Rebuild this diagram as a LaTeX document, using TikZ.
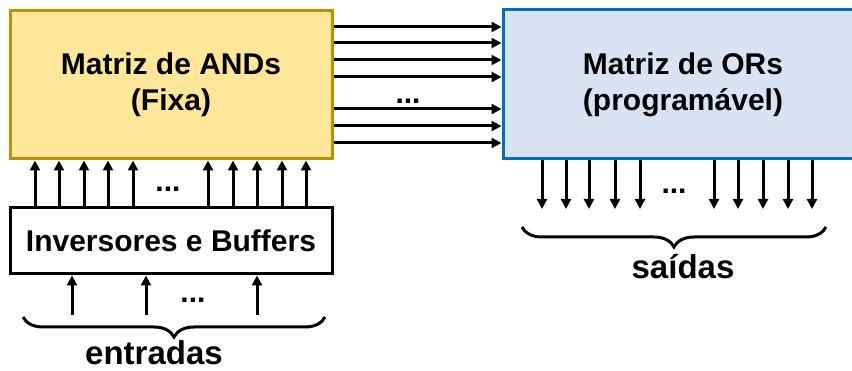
\documentclass[tikz,border=0pt]{standalone}
\usepackage{fontspec}
\setmainfont{Liberation Sans}
\usetikzlibrary{arrows.meta,decorations.pathreplacing}
\definecolor{andfill}{HTML}{FFE699}
\definecolor{anddraw}{HTML}{BF9000}
\definecolor{orfill}{HTML}{DAE3F3}
\definecolor{ordraw}{HTML}{0070C0}

\begin{document}
\begin{tikzpicture}[x=1pt,y=-1pt,
  box/.style={draw,line width=3pt,inner sep=0pt,align=center,
    font=\fontsize{30}{36}\selectfont\bfseries},
  arr/.style={line width=3pt,-{Triangle[length=10pt,width=10pt]}},
  dots/.style={inner sep=0pt,font=\fontsize{30}{36}\selectfont\bfseries},
  brc/.style={line width=3pt,decorate,decoration={brace,mirror,amplitude=20pt}},
  lbl/.style={anchor=base,font=\fontsize{33}{40}\selectfont\bfseries}]
  \useasboundingbox (0,0) rectangle (852,371);
  % blocos
  \node[box,fill=andfill,draw=anddraw,minimum width=322pt,minimum height=148pt] (ands) at (171,85) {Matriz de ANDs\\(Fixa)};
  \node[box,fill=orfill,draw=ordraw,minimum width=360pt,minimum height=149pt] (ors) at (683,84.5) {Matriz de ORs\\(program\'avel)};
  \node[box,fill=white,minimum width=322pt,minimum height=66pt] (inv) at (171,241) {Inversores e Buffers};
  % termos produto
  \foreach \y in {27,43,60,77,109,126,143}
    \draw[arr] (ands.east |- 0,\y) -- (ors.west |- 0,\y);
  \node[dots] (d1) at (408,101) {...};
  % inversores -> ANDs
  \foreach \x in {35,59,84,108,133,208,233,257,282,306}
    \draw[arr] (inv.north -| \x,0) -- (ands.south -| \x,0);
  \node[dots] (d2) at (168,189) {...};
  % entradas
  \foreach \x [count=\i] in {72,146,257}
    \draw[arr] (\x,315) coordinate (in\i) -- (inv.south -| in\i);
  \node[dots] (d3) at (193,300) {...};
  \coordinate (eb1) at (23,317);
  \coordinate (eb2) at (325,317);
  \draw[brc] (eb1) -- (eb2);
  \node[lbl] (entradas) at (154,365) {entradas};
  % saidas
  \foreach \x [count=\i] in {542,566,589,615,640,714,738,763,788,812}
    \draw[arr] (ors.south -| \x,0) -- (\x,209) coordinate (out\i);
  \node[dots] (d4) at (674,191) {...};
  \coordinate (sb1) at (522,227);
  \coordinate (sb2) at (826,227);
  \draw[brc] (sb1) -- (sb2);
  \node[lbl] (saidas) at (683,279) {sa\'idas};
\end{tikzpicture}
\end{document}
